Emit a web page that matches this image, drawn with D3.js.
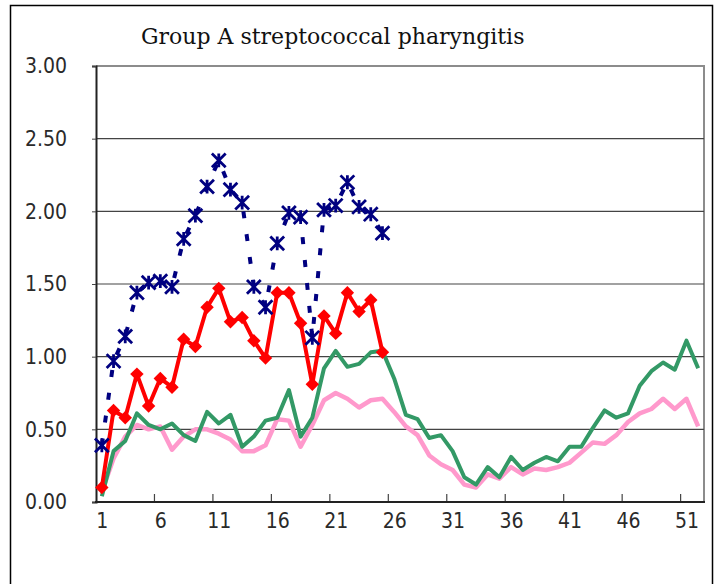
<!DOCTYPE html>
<html>
<head>
<meta charset="utf-8">
<script src="https://cdn.jsdelivr.net/npm/d3@7"></script>
<style>
  body { margin: 0; background: #fff; }
</style>
</head>
<body>
<svg id="chart"></svg>
<script>
const width = 720;
const height = 584;

const title = "Group A streptococcal pharyngitis";
const weeks = d3.range(1, 53);
const xTickLabels = [1, 6, 11, 16, 21, 26, 31, 36, 41, 46, 51];
const yTicks = [0, 0.5, 1, 1.5, 2, 2.5, 3];

// weeks 1-25
const navySeries = [0.39, 0.97, 1.14, 1.44, 1.51, 1.52, 1.48, 1.81, 1.97, 2.17, 2.35, 2.15, 2.06,
  1.48, 1.34, 1.78, 1.99, 1.96, 1.13, 2.01, 2.04, 2.20, 2.03, 1.98, 1.85];
const redSeries = [0.10, 0.63, 0.58, 0.88, 0.66, 0.85, 0.79, 1.12, 1.07, 1.34, 1.47, 1.24, 1.27,
  1.11, 0.99, 1.44, 1.44, 1.23, 0.81, 1.28, 1.16, 1.44, 1.31, 1.39, 1.03];
// weeks 1-52
const greenSeries = [0.04, 0.35, 0.42, 0.61, 0.53, 0.50, 0.54, 0.46, 0.42, 0.62,
  0.54, 0.60, 0.38, 0.45, 0.56, 0.58, 0.77, 0.45, 0.58, 0.92,
  1.04, 0.93, 0.95, 1.03, 1.04, 0.85, 0.60, 0.57, 0.44, 0.46,
  0.35, 0.17, 0.12, 0.24, 0.17, 0.31, 0.22, 0.27, 0.31, 0.28,
  0.38, 0.38, 0.51, 0.63, 0.58, 0.61, 0.80, 0.90, 0.96, 0.91,
  1.11, 0.92];
const pinkSeries = [0.07, 0.30, 0.45, 0.53, 0.50, 0.52, 0.36, 0.45, 0.50, 0.50,
  0.47, 0.43, 0.35, 0.35, 0.39, 0.57, 0.56, 0.38, 0.53, 0.70,
  0.75, 0.71, 0.65, 0.70, 0.71, 0.62, 0.52, 0.46, 0.32, 0.26,
  0.22, 0.12, 0.10, 0.19, 0.16, 0.24, 0.19, 0.23, 0.22, 0.24,
  0.27, 0.34, 0.41, 0.40, 0.46, 0.55, 0.61, 0.64, 0.71, 0.64,
  0.71, 0.52];

const plot = { left: 96, right: 704, top: 66, bottom: 502 };
const tickFont = "'DejaVu Sans Condensed', 'DejaVu Sans', sans-serif";

const svg = d3.select("#chart")
  .attr("width", width)
  .attr("height", height);

svg.append("rect").attr("width", width).attr("height", height).attr("fill", "#fff");

// outer chart frame (runs off the bottom)
svg.append("rect")
  .attr("x", 10.5).attr("y", 5.5)
  .attr("width", 702).attr("height", 620)
  .attr("fill", "none").attr("stroke", "#000").attr("stroke-width", 1.5);

const x = d3.scalePoint()
  .domain(weeks)
  .range([plot.left, plot.right])
  .padding(0.5);

const y = d3.scaleLinear()
  .domain([0, 3])
  .range([plot.bottom, plot.top]);

const step = x.step();

// plot area border (gray top/right)
svg.append("path")
  .attr("d", `M${plot.left},${plot.top}H${plot.right}V${plot.bottom}`)
  .attr("fill", "none").attr("stroke", "#8c8c8c").attr("stroke-width", 2);

// gridlines
svg.append("g")
  .selectAll("line")
  .data(yTicks.filter(d => d > 0 && d < 3))
  .join("line")
  .attr("x1", plot.left).attr("x2", plot.right)
  .attr("y1", d => y(d)).attr("y2", d => y(d))
  .attr("stroke", "#444").attr("stroke-width", 1.2);

// y axis
const yAxis = svg.append("g")
  .attr("transform", `translate(${plot.left},0)`)
  .call(d3.axisLeft(y).tickValues(yTicks).tickFormat(d3.format(".2f")).tickSize(4).tickPadding(25));
yAxis.select(".domain").attr("stroke", "#222").attr("stroke-width", 2);
yAxis.selectAll(".tick line").attr("stroke", "#444");
yAxis.selectAll("text")
  .attr("font-family", tickFont)
  .attr("font-size", 21).attr("fill", "#2a2a2a");

// x axis: labels at categories, ticks between categories
const xAxis = svg.append("g")
  .attr("transform", `translate(0,${plot.bottom})`)
  .call(d3.axisBottom(x).tickValues(xTickLabels).tickSize(0).tickPadding(11));
xAxis.select(".domain").remove();
xAxis.selectAll("text")
  .attr("font-family", tickFont)
  .attr("font-size", 21).attr("fill", "#2a2a2a");

svg.append("g")
  .selectAll("line")
  .data(xTickLabels.slice(1))
  .join("line")
  .attr("x1", d => x(d) - step / 2).attr("x2", d => x(d) - step / 2)
  .attr("y1", plot.bottom).attr("y2", plot.bottom - 8)
  .attr("stroke", "#444").attr("stroke-width", 1.2);

svg.append("line")
  .attr("x1", plot.left - 1).attr("x2", plot.right + 1)
  .attr("y1", plot.bottom).attr("y2", plot.bottom)
  .attr("stroke", "#222").attr("stroke-width", 2);

// title
svg.append("text")
  .attr("x", 141).attr("y", 44)
  .attr("font-family", "'DejaVu Serif', 'Liberation Serif', serif")
  .attr("font-size", 22).attr("fill", "#111")
  .text(title);

const line = d3.line()
  .x((d, i) => x(weeks[i]))
  .y(d => y(d));

svg.append("path")
  .attr("d", line(pinkSeries))
  .attr("fill", "none").attr("stroke", "#ff99cc").attr("stroke-width", 4.5)
  .attr("stroke-linejoin", "round");

svg.append("path")
  .attr("d", line(greenSeries))
  .attr("fill", "none").attr("stroke", "#339966").attr("stroke-width", 4)
  .attr("stroke-linejoin", "round");

svg.append("path")
  .attr("d", line(redSeries))
  .attr("fill", "none").attr("stroke", "#ff0000").attr("stroke-width", 4)
  .attr("stroke-linejoin", "round");

svg.append("g")
  .selectAll("path")
  .data(redSeries)
  .join("path")
  .attr("transform", (d, i) => `translate(${x(weeks[i])},${y(d)}) rotate(45)`)
  .attr("d", d3.symbol().type(d3.symbolSquare).size(90))
  .attr("fill", "#ff0000");

svg.append("path")
  .attr("d", line(navySeries))
  .attr("fill", "none").attr("stroke", "#000080").attr("stroke-width", 4)
  .attr("stroke-dasharray", "7 16");

// Excel-style star marker: an X with a vertical bar
const starMarker = {
  draw(context, size) {
    const r = Math.sqrt(size) / 2;
    context.moveTo(-r, -r); context.lineTo(r, r);
    context.moveTo(-r, r); context.lineTo(r, -r);
    context.moveTo(0, -r); context.lineTo(0, r);
  }
};

svg.append("g")
  .selectAll("path")
  .data(navySeries)
  .join("path")
  .attr("transform", (d, i) => `translate(${x(weeks[i])},${y(d)})`)
  .attr("d", d3.symbol().type(starMarker).size(190))
  .attr("fill", "none").attr("stroke", "#000080").attr("stroke-width", 2.8);
</script>
</body>
</html>
